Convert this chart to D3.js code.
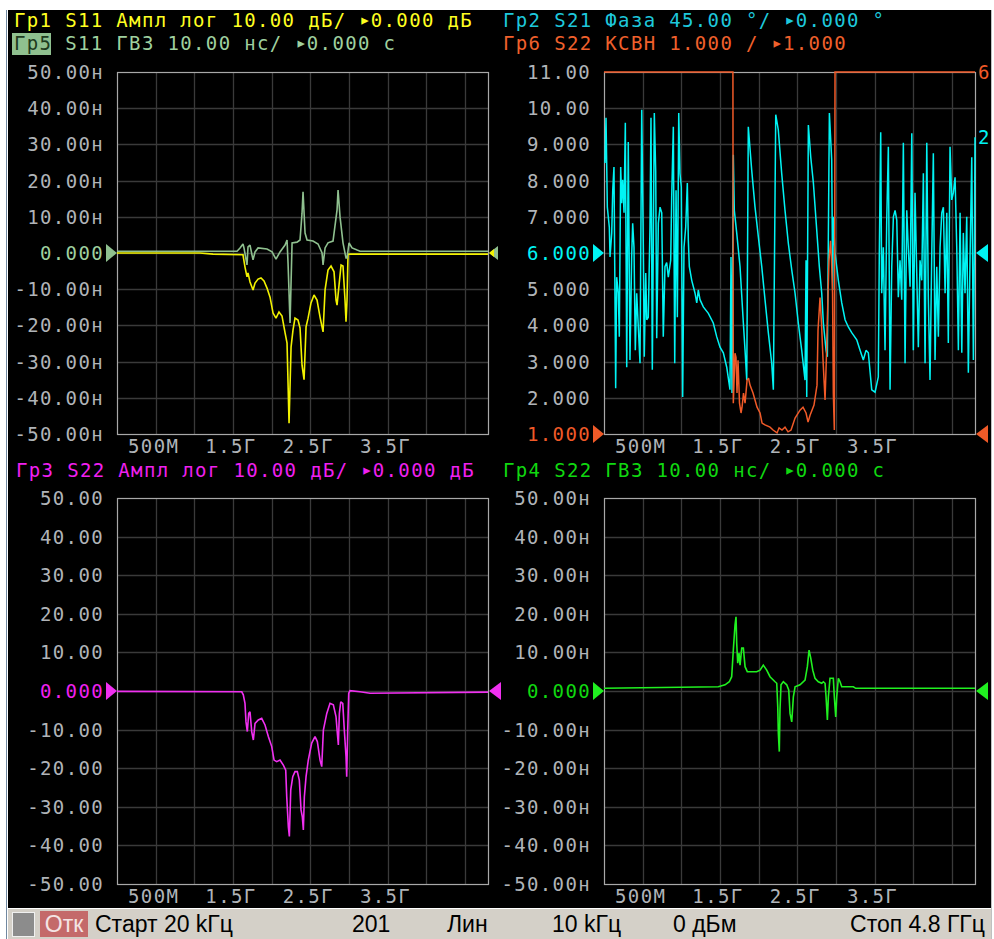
<!DOCTYPE html>
<html><head><meta charset="utf-8">
<script src="https://cdn.jsdelivr.net/npm/d3@7"></script>
<style>
html,body{margin:0;padding:0;background:#fff;}
svg{display:block;}
.mono{font-family:"DejaVu Sans Mono",monospace;font-size:19px;letter-spacing:1.35px;}
.tri{font-size:19px;letter-spacing:0px;}
.stat{font-family:"Liberation Sans Narrow","Liberation Sans",Arial,sans-serif;font-size:23px;}
</style></head><body>
<svg id="c" width="994" height="939"></svg>
<script>
// ---------------- DATA ----------------
const freqTickValues = [500, 1500, 2500, 3500];              // MHz
const freqTickLabels = ["500M", "1.5Г", "2.5Г", "3.5Г"];
const freqGridStep = 500;                                     // MHz
const freqStart = 0.02, freqStop = 4800;                      // MHz

const gdTickLabels = ["50.00н","40.00н","30.00н","20.00н","10.00н","0.000","-10.00н","-20.00н","-30.00н","-40.00н","-50.00н"];
const dbTickLabels = ["50.00","40.00","30.00","20.00","10.00","0.000","-10.00","-20.00","-30.00","-40.00","-50.00"];
const vswrTickLabels = ["11.00","10.00","9.000","8.000","7.000","6.000","5.000","4.000","3.000","2.000","1.000"];

// header parts: [before marker, after marker]
const header1 = ["Гр1 S11 Ампл лог 10.00 дБ/ ", "0.000 дБ"];
const header5 = ["Гр5", " S11 ГВЗ 10.00 нс/ ", "0.000 с"];
const header2 = ["Гр2 S21 Фаза 45.00 °/ ", "0.000 °"];
const header6 = ["Гр6 S22 КСВН 1.000 / ", "1.000"];
const header3 = ["Гр3 S22 Ампл лог 10.00 дБ/ ", "0.000 дБ"];
const header4 = ["Гр4 S22 ГВЗ 10.00 нс/ ", "0.000 с"];

const statusItems = ["Старт 20 kГц", "201", "Лин", "10 kГц", "0 дБм", "Стоп 4.8 ГГц"];
const statusState = "Отк";

// Гр1 S11 amplitude, dB  [MHz, dB]
const gr1S11Amp = [[0,0],[1074,0],[1242,-0.3],[1630,-0.5],[1656,-3.9],[1682,-6.6],[1695,-5.5],[1721,-8],[1760,-10.2],[1786,-8.3],[1825,-7.2],[1863,-6.9],[1902,-7.7],[1941,-9.7],[1980,-12.2],[2019,-16.6],[2057,-18],[2096,-16.3],[2135,-17.4],[2174,-22],[2200,-24.9],[2226,-47],[2252,-26],[2277,-21.3],[2303,-18],[2342,-18.5],[2368,-20.7],[2394,-31],[2420,-35],[2446,-20.4],[2472,-18],[2510,-13.8],[2549,-11.6],[2588,-13],[2627,-17.7],[2666,-21.8],[2692,-10.2],[2730,-4.7],[2769,-3.6],[2808,-5.2],[2834,-13],[2847,-14.4],[2873,-8.8],[2899,-3.3],[2924,-3.6],[2950,-13],[2963,-19],[2976,-13],[2989,-0.3],[3080,-0.3],[4800,-0.3]];

// Гр5 S11 group delay, ns
const gr5S11Gd = [[0,0.5],[1553,0.5],[1592,1.4],[1630,2.5],[1643,1.4],[1682,-3.3],[1695,1.7],[1721,2.2],[1747,-0.6],[1760,-1.9],[1786,0.3],[1825,1.4],[1941,1.1],[2006,0.3],[2057,-1.7],[2109,0.3],[2174,2.2],[2200,3.6],[2213,-2.8],[2239,-19.3],[2265,2.8],[2329,3.0],[2368,3.6],[2394,11],[2407,16.9],[2433,5.5],[2459,3.6],[2536,3.3],[2601,2.5],[2653,0],[2666,-3.3],[2692,1.4],[2730,2.8],[2795,3.3],[2847,11.9],[2860,17.4],[2886,9.9],[2924,2.8],[2963,-1.4],[2976,-1.4],[3002,2.8],[3041,1.4],[3106,0.8],[3144,0.5],[4800,0.5]];

// Гр2 S21 phase, degrees
const gr2S21Phase = [[13,112],[26,168],[43,57],[69,32],[78,-5],[100,25],[113,78],[129,107],[151,-168],[164,-30],[185,-50],[198,-104],[216,107],[229,62],[242,91],[259,50],[276,162],[294,-142],[314,138],[336,-133],[358,-5],[371,37],[388,7],[405,-121],[423,-50],[444,-92],[466,-137],[488,178],[509,4],[521,-129],[540,-25],[553,-83],[573,-80],[595,32],[608,168],[625,-145],[638,12],[651,174],[669,101],[682,-106],[703,37],[725,57],[747,50],[767,-104],[789,-17],[811,-12],[832,-30],[863,-9],[876,70],[897,157],[915,-137],[932,78],[949,-80],[967,174],[983,99],[1000,82],[1018,-179],[1035,7],[1057,32],[1078,87],[1091,16],[1104,-17],[1135,-34],[1178,-50],[1200,-62],[1220,-46],[1242,-58],[1285,-67],[1350,-75],[1414,-87],[1458,-104],[1501,-117],[1544,-124],[1588,-142],[1630,-170],[1643,-5],[1656,-174],[1673,122],[1686,53],[1717,25],[1760,-17],[1803,-87],[1825,-121],[1847,-158],[1867,157],[1911,103],[1954,57],[1997,20],[2041,-17],[2083,-58],[2126,-99],[2170,-137],[2191,-170],[2222,172],[2255,153],[2299,99],[2342,53],[2385,12],[2429,-21],[2472,-50],[2514,-87],[2558,-121],[2601,-158],[2614,-9],[2623,-179],[2644,159],[2675,119],[2709,87],[2743,41],[2786,-17],[2817,-50],[2838,-87],[2873,-121],[2890,-129],[2916,174],[2946,116],[2959,-46],[2967,45],[2989,0],[3032,-34],[3076,-62],[3119,-83],[3161,-92],[3205,-99],[3270,-108],[3313,-121],[3355,-133],[3390,-121],[3420,-124],[3464,-170],[3507,-173],[3549,-154],[3562,0],[3580,150],[3593,-50],[3614,7],[3636,-121],[3658,41],[3679,132],[3701,-170],[3723,-17],[3744,45],[3766,53],[3788,41],[3808,-55],[3830,-9],[3852,-58],[3873,137],[3895,-137],[3917,53],[3938,4],[3960,-42],[3982,149],[4002,-121],[4024,75],[4046,-25],[4067,-117],[4089,-9],[4111,-34],[4132,99],[4154,-137],[4176,137],[4196,-55],[4218,-158],[4240,-5],[4261,124],[4283,-133],[4305,-17],[4326,-104],[4348,7],[4370,50],[4391,57],[4413,-50],[4435,50],[4455,-112],[4477,132],[4499,66],[4520,75],[4542,94],[4564,7],[4585,-121],[4607,50],[4629,-124],[4649,25],[4671,-50],[4693,45],[4714,-149],[4736,-5],[4758,119],[4779,-133],[4792,7],[4800,144]];

// Гр6 S22 VSWR
const gr6S22Vswr = [[0,60],[1668,60],[1673,1.85],[1695,3.23],[1708,3.12],[1721,2.13],[1734,3.04],[1753,1.85],[1773,1.58],[1786,1.74],[1805,2.13],[1825,1.85],[1851,2.49],[1870,2.54],[1889,2.35],[1928,2.13],[1980,1.74],[2019,1.58],[2045,1.30],[2083,1.25],[2148,1.19],[2187,1.11],[2239,1.03],[2265,1.17],[2303,1.11],[2342,1.19],[2381,1.06],[2420,1.11],[2472,1.44],[2536,1.66],[2575,1.74],[2614,1.58],[2640,1.33],[2666,1.52],[2717,1.80],[2756,2.35],[2769,3.87],[2795,4.77],[2814,4.06],[2834,3.04],[2860,1.94],[2879,3.23],[2899,4.88],[2911,5.79],[2931,6.34],[2944,5.79],[2957,4.88],[2967,2.13],[2980,1.11],[2989,60],[4800,60]];

// Гр3 S22 amplitude, dB
const gr3S22Amp = [[0,-0.1],[1614,-0.2],[1634,-1.0],[1656,-3.2],[1669,-8.0],[1686,-10.5],[1704,-5.8],[1721,-5.4],[1743,-10.5],[1764,-12.7],[1786,-8.4],[1828,-7.5],[1872,-7.1],[1915,-8.8],[1958,-11.8],[2002,-14.4],[2032,-17.9],[2066,-18.3],[2109,-17.9],[2152,-19.2],[2183,-20.5],[2196,-27.4],[2217,-35.2],[2230,-37.7],[2248,-25.6],[2274,-22.2],[2303,-20.9],[2333,-20.9],[2359,-23.1],[2381,-30.8],[2398,-32.6],[2411,-36.0],[2424,-27.4],[2446,-22.2],[2475,-17.9],[2519,-13.5],[2562,-11.8],[2592,-13.1],[2627,-17.9],[2649,-19.6],[2670,-10.1],[2714,-5.8],[2756,-3.2],[2799,-3.6],[2834,-6.7],[2851,-11.0],[2864,-14.0],[2877,-5.8],[2895,-2.8],[2921,-3.2],[2941,-10.1],[2963,-17.0],[2972,-22.2],[2985,-10.1],[2998,-0.6],[3015,0.1],[3144,-0.2],[3274,-0.6],[4800,-0.3]];

// Гр4 S22 group delay, ns
const gr4S22Gd = [[0,0.7],[1479,1.1],[1566,1.6],[1621,2.4],[1652,3.7],[1673,10.6],[1695,17.1],[1708,19.2],[1717,12.4],[1730,7.2],[1747,9.8],[1760,6.7],[1782,11.1],[1803,11.1],[1825,6.3],[1854,5.0],[1911,5.0],[1976,5.0],[2019,5.4],[2061,6.7],[2105,5.4],[2148,3.7],[2213,2.4],[2235,2.0],[2248,-4.1],[2256,-11.0],[2268,-15.7],[2277,-4.9],[2290,1.6],[2320,2.4],[2364,1.6],[2390,0.3],[2407,-5.8],[2429,-8.0],[2450,-1.5],[2472,1.1],[2536,1.6],[2601,2.8],[2631,6.3],[2653,10.6],[2675,8.5],[2701,5.4],[2730,3.3],[2773,2.4],[2817,2.0],[2838,2.4],[2860,2.0],[2873,-1.5],[2890,-7.5],[2903,-1.5],[2924,3.3],[2967,3.3],[2980,-1.5],[2998,-6.7],[3011,-1.5],[3032,3.3],[3054,2.4],[3076,1.1],[3226,1.1],[3257,0.7],[4800,0.7]];

// ---------------- DRAW ----------------
const svg = d3.select("#c");
const C = {
  yellow:"#f2f200", ylHead:"#ffff20",
  sage:"#8fc08f", sageHead:"#9fd09f", sageBox:"#8fc08f",
  cyan:"#00f4f4", cyanHead:"#1ec8dc",
  orange:"#f05a28", orangeHead:"#f0602c",
  magenta:"#f030f0", magHead:"#f020f0",
  green:"#20f020", greenHead:"#10d810",
  label:"#b0b4b8", grid:"#3a3a3a", border:"#a8a8a8"
};

// window frame
svg.append("rect").attr("x",0).attr("y",0).attr("width",994).attr("height",939).attr("fill","#ffffff");
svg.append("rect").attr("x",8).attr("y",10).attr("width",983).attr("height",898).attr("fill","#000");
svg.append("line").attr("x1",6.5).attr("x2",6.5).attr("y1",10).attr("y2",939).attr("stroke","#7088a0").attr("stroke-width",1);
svg.append("line").attr("x1",991.5).attr("x2",991.5).attr("y1",10).attr("y2",939).attr("stroke","#c0c0c0").attr("stroke-width",1);

function panel(x0, x1, y0, y1) {
  const x = d3.scaleLinear().domain([freqStart, freqStop]).range([x0, x1]);
  const g = svg.append("g");
  const gridF = d3.range(freqGridStep, freqStop, freqGridStep);
  g.selectAll(null).data(gridF).enter().append("line")
    .attr("x1", d => Math.round(x(d)) + 0.5).attr("x2", d => Math.round(x(d)) + 0.5)
    .attr("y1", y0).attr("y2", y1).attr("stroke", C.grid).attr("stroke-width", 1.3);
  const ys = d3.scaleLinear().domain([0, 10]).range([y0, y1]);
  g.selectAll(null).data(d3.range(1, 10)).enter().append("line")
    .attr("x1", x0).attr("x2", x1)
    .attr("y1", d => Math.round(ys(d)) + 0.5).attr("y2", d => Math.round(ys(d)) + 0.5)
    .attr("stroke", C.grid).attr("stroke-width", 1.3);
  g.append("rect").attr("x", x0 + 0.5).attr("y", y0 + 0.5).attr("width", x1 - x0).attr("height", y1 - y0)
    .attr("fill", "none").attr("stroke", C.border).attr("stroke-width", 1.2);
  g.selectAll(null).data(freqTickValues).enter().append("text")
    .attr("class", "mono").attr("x", (d) => x(d) - 2).attr("y", y1 + 19)
    .attr("text-anchor", "middle").attr("fill", C.label)
    .text((d, i) => freqTickLabels[i]);
  return {x, g, x0, x1, y0, y1, ys};
}

function yLabels(p, labels, specialColors) {
  p.g.selectAll(null).data(labels).enter().append("text")
    .attr("class", "mono").attr("x", p.x0 - 13).attr("y", (d, i) => p.ys(i) + 7)
    .attr("text-anchor", "end")
    .attr("fill", (d, i) => specialColors[i] || C.label)
    .text(d => d);
}

function markerL(p, y, color) {
  p.g.append("path").attr("d", `M${p.x0-11},${y-9}L${p.x0},${y}L${p.x0-11},${y+9}Z`).attr("fill", color);
}
function markerR(p, y, color, w = 12, h = 9) {
  p.g.append("path").attr("d", `M${p.x1+w+1},${y-h}L${p.x1+1},${y}L${p.x1+w+1},${y+h}Z`).attr("fill", color);
}

function trace(p, yScale, data, color, width = 1.6) {
  const line = d3.line().x(d => p.x(d[0])).y(d => yScale(d[1]));
  p.g.append("path").datum(data).attr("d", line).attr("fill", "none")
    .attr("stroke", color).attr("stroke-width", width).attr("stroke-linejoin", "miter").attr("stroke-miterlimit", 2);
}

function header(x, y, parts, color) {
  const t = svg.append("text").attr("class", "mono").attr("x", x).attr("y", y).attr("fill", color);
  t.append("tspan").text(parts[0]);
  t.append("tspan").attr("class", "tri").attr("dy", -1).text("▸");
  t.append("tspan").attr("dy", 1).attr("dx", 0).text(parts[1]);
  return t;
}

// ---- Top-left: Гр1 + Гр5
const pTL = panel(117, 488, 72, 434);
const yTL = d3.scaleLinear().domain([-50, 50]).range([434, 72]);
yLabels(pTL, gdTickLabels, {5: C.sageHead});
trace(pTL, yTL, gr1S11Amp, C.yellow);
trace(pTL, yTL, gr5S11Gd, C.sage);
markerL(pTL, yTL(0), C.sage);
markerR(pTL, yTL(0), C.sage, 9, 7);
markerR(pTL, yTL(0), C.yellow, 5, 4);

// ---- Top-right: Гр2 + Гр6
const pTR = panel(604, 975, 72, 434);
const yPhase = d3.scaleLinear().domain([-225, 225]).range([434, 72]);
const yVswr = d3.scaleLinear().domain([1, 11]).range([434, 72]).clamp(true);
yLabels(pTR, vswrTickLabels, {5: C.cyan, 10: C.orange});
trace(pTR, yPhase, gr2S21Phase, C.cyan, 1.5);
trace(pTR, yVswr, gr6S22Vswr, C.orange, 1.5);
markerL(pTR, yPhase(0), C.cyan);
markerL(pTR, yVswr(1), C.orange);
markerR(pTR, yPhase(0), C.cyan);
markerR(pTR, yVswr(1), C.orange);
svg.append("text").attr("class", "mono").attr("x", 978).attr("y", 79).attr("fill", C.orange).text("6");
svg.append("text").attr("class", "mono").attr("x", 978).attr("y", 144).attr("fill", C.cyan).text("2");

// ---- Bottom-left: Гр3
const pBL = panel(117, 488, 498, 884);
const yBL = d3.scaleLinear().domain([-50, 50]).range([884, 498]);
yLabels(pBL, dbTickLabels, {5: C.magHead});
trace(pBL, yBL, gr3S22Amp, C.magenta);
markerL(pBL, yBL(0), C.magenta);
markerR(pBL, yBL(0), C.magenta);

// ---- Bottom-right: Гр4
const pBR = panel(604, 975, 498, 884);
const yBR = d3.scaleLinear().domain([-50, 50]).range([884, 498]);
yLabels(pBR, gdTickLabels, {5: C.greenHead});
trace(pBR, yBR, gr4S22Gd, C.green);
markerL(pBR, yBR(0), C.green);
markerR(pBR, yBR(0), C.green);

// ---- headers
header(14, 27, header1, C.ylHead);
svg.append("rect").attr("x", 12).attr("y", 33).attr("width", 39).attr("height", 22).attr("fill", C.sageBox);
const t5 = svg.append("text").attr("class", "mono").attr("x", 14).attr("y", 50);
t5.append("tspan").attr("fill", "#1d3a1d").text(header5[0]);
t5.append("tspan").attr("fill", C.sageHead).text(header5[1]);
t5.append("tspan").attr("fill", C.sageHead).attr("class", "tri").attr("dy", -1).text("▸");
t5.append("tspan").attr("fill", C.sageHead).attr("dy", 1).text(header5[2]);
header(503, 27, header2, C.cyanHead);
header(503, 50, header6, C.orangeHead);
header(16, 477, header3, C.magHead);
header(503, 477, header4, C.greenHead);

// ---- status bar
svg.append("rect").attr("x", 8).attr("y", 908).attr("width", 983).attr("height", 31).attr("fill", "#d4d0c8");
svg.append("line").attr("x1", 8).attr("x2", 991).attr("y1", 908.5).attr("y2", 908.5).attr("stroke", "#ffffff");
svg.append("rect").attr("x", 12.5).attr("y", 912.5).attr("width", 22).attr("height", 24).attr("fill", "#8c8c8c").attr("stroke", "#f0f0f0").attr("stroke-width", 1);
svg.append("rect").attr("x", 40).attr("y", 911).attr("width", 48).attr("height", 26).attr("fill", "#c46a6a");
svg.append("text").attr("class", "stat").attr("x", 64).attr("y", 932).attr("text-anchor", "middle").attr("fill", "#f4e4e4").text(statusState);
const statusX = [95, 352, 447, 552, 673, 985];
svg.selectAll(null).data(statusItems).enter().append("text")
  .attr("class", "stat").attr("x", (d, i) => statusX[i]).attr("y", 932)
  .attr("text-anchor", (d, i) => i === statusItems.length - 1 ? "end" : "start")
  .attr("fill", "#000").text(d => d);
</script>
</body></html>
